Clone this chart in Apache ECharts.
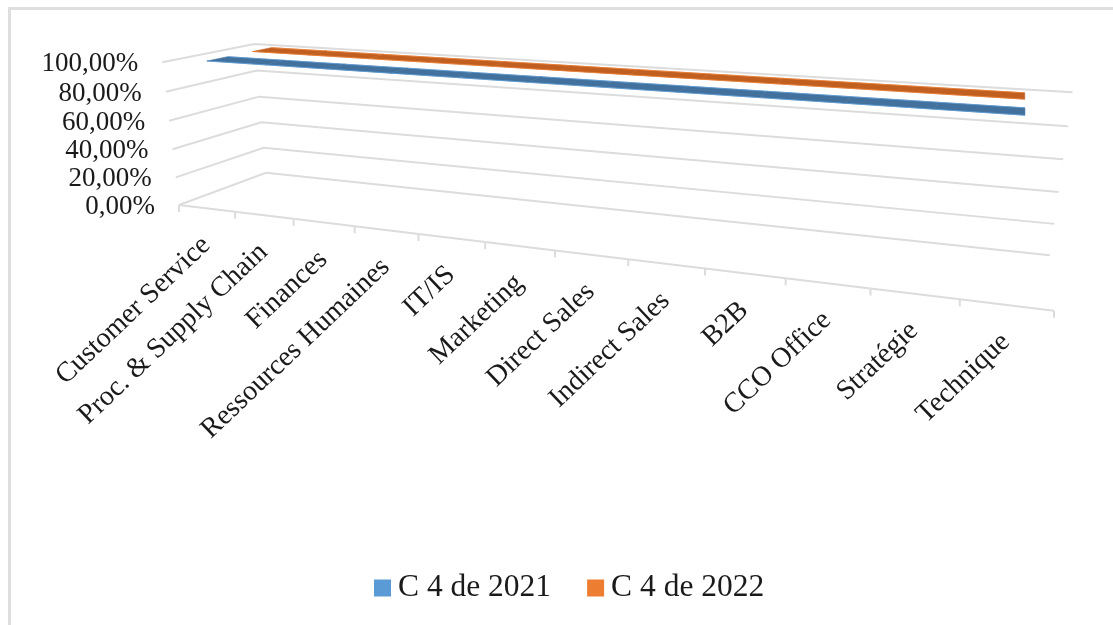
<!DOCTYPE html>
<html>
<head>
<meta charset="utf-8">
<title>C 4</title>
<style>
  html, body { margin: 0; padding: 0; background: #fff; }
  #chart { width: 1113px; height: 625px; }
</style>
<script src="https://cdn.jsdelivr.net/npm/echarts@6/dist/echarts.min.js"></script>
</head>
<body>
<div id="chart"></div>
<script>
const categories = ['Customer Service', 'Proc. & Supply Chain', 'Finances', 'Ressources Humaines', 'IT/IS', 'Marketing', 'Direct Sales', 'Indirect Sales', 'B2B', 'CCO Office', 'Stratégie', 'Technique'];
const values2021 = [100, 100, 100, 100, 100, 100, 100, 100, 100, 100, 100, 100];
const values2022 = [100, 100, 100, 100, 100, 100, 100, 100, 100, 100, 100, 100];
const valueTicks = [0, 20, 40, 60, 80, 100];
const valueLabels = ['0,00%', '20,00%', '40,00%', '60,00%', '80,00%', '100,00%'];
const seriesNames = ['C 4 de 2021', 'C 4 de 2022'];

const FONT = '"Liberation Serif", "Times New Roman", serif';
const GRID_COLOR = '#dcdcdc';
const TEXT_COLOR = '#1a1a1a';

// corners of the 3d box on screen, with their perspective weights
const O = { x: 179, y: 205, w: 1 };
const U = { x: 1054, y: 310.7, w: 0.7536 };
const V = { x: 162.3, y: 62.3, w: 0.96 };
const D = { x: 266, y: 172.7, w: 1.115 };

// u along categories, v along values, d along depth, all 0..1
function project(u, v, d) {
  const w = O.w + (U.w - O.w) * u + (V.w - O.w) * v + (D.w - O.w) * d;
  const nx = O.x * O.w + (U.x * U.w - O.x * O.w) * u + (V.x * V.w - O.x * O.w) * v + (D.x * D.w - O.x * O.w) * d;
  const ny = O.y * O.w + (U.y * U.w - O.y * O.w) * u + (V.y * V.w - O.y * O.w) * v + (D.y * D.w - O.y * O.w) * d;
  return [nx / w, ny / w];
}

// plain grid pixel -> 0..1 box position, so values still go through the axes
function toUnit(params, pt) {
  const r = params.coordSys;
  return [(pt[0] - r.x) / r.width, (r.y + r.height - pt[1]) / r.height];
}

function ribbon(d0, d1, face, edge) {
  return function (params, api) {
    const i = api.value(0);
    if (i >= categories.length - 1) return null;
    const a = toUnit(params, api.coord([i, api.value(1)]));
    const b = toUnit(params, api.coord([i + 1, api.value(2)]));
    // the last point stops a little short of the band centre, as in the original
    if (i === categories.length - 2) b[0] -= 0.004;
    const p = [project(a[0], a[1], d0), project(a[0], a[1], d1), project(b[0], b[1], d1), project(b[0], b[1], d0)];
    const edgeStyle = { stroke: edge, lineWidth: 0.8 };
    return {
      type: 'group',
      children: [
        { type: 'polygon', shape: { points: p }, style: { fill: face, stroke: face, lineWidth: 0.5 } },
        { type: 'line', shape: { x1: p[0][0], y1: p[0][1], x2: p[3][0], y2: p[3][1] }, style: edgeStyle },
        { type: 'line', shape: { x1: p[1][0], y1: p[1][1], x2: p[2][0], y2: p[2][1] }, style: edgeStyle }
      ]
    };
  };
}

function ribbonData(values) {
  return values.map((v, i) => [i, v, i + 1 < values.length ? values[i + 1] : v]);
}

const chart = echarts.init(document.getElementById('chart'));
chart.setOption({
  animation: false,
  backgroundColor: '#fff',
  grid: { left: 100, top: 50, width: 800, height: 300 },
  xAxis: { type: 'category', data: categories, show: false },
  yAxis: { type: 'value', min: 0, max: 100, interval: 20, show: false },
  // what is left of the chart frame: top and left edges only
  graphic: [
    { type: 'rect', silent: true, shape: { x: 8, y: 7, width: 1105, height: 3 }, style: { fill: '#dedede' } },
    { type: 'rect', silent: true, shape: { x: 8, y: 7, width: 3, height: 618 }, style: { fill: '#dedede' } }
  ],
  legend: {
    left: 369,
    top: 567,
    itemWidth: 17,
    itemHeight: 17,
    itemGap: 36,
    icon: 'rect',
    textStyle: { fontFamily: FONT, fontSize: 31.5, color: TEXT_COLOR, padding: [0, 0, 0, 2] },
    data: seriesNames
  },
  series: [
    {
      // walls and gridlines
      type: 'custom',
      silent: true,
      clip: false,
      data: valueTicks.map((t, i) => [t, i]),
      renderItem(params, api) {
        const v = toUnit(params, api.coord([0, api.value(0)]))[1];
        const left = project(0, v, 0);
        const label = valueLabels[api.value(1)];
        return {
          type: 'group',
          children: [
            { type: 'polyline', shape: { points: [left, project(0, v, 1), project(1, v, 1)] }, style: { fill: null, stroke: GRID_COLOR, lineWidth: 2 } },
            { type: 'text', x: left[0] - 24, y: left[1] + 2, style: { text: label, align: 'right', verticalAlign: 'middle', font: '27px ' + FONT, fill: TEXT_COLOR } }
          ]
        };
      }
    },
    {
      // front floor edge, ticks and category labels
      type: 'custom',
      silent: true,
      clip: false,
      data: categories.map((c, i) => [i]),
      renderItem(params, api) {
        const i = api.value(0);
        const half = api.size([1, 0])[0] / 2;
        const c = api.coord([i, 0]);
        const a = toUnit(params, [c[0] - half, c[1]])[0];
        const m = toUnit(params, c)[0];
        const b = toUnit(params, [c[0] + half, c[1]])[0];
        const pa = project(a, 0, 0);
        const pb = project(b, 0, 0);
        const pm = project(m, 0, 0);
        const line = { fill: null, stroke: GRID_COLOR, lineWidth: 2 };
        const children = [
          { type: 'line', shape: { x1: pa[0], y1: pa[1], x2: pb[0], y2: pb[1] }, style: line },
          { type: 'line', shape: { x1: pa[0], y1: pa[1], x2: pa[0], y2: pa[1] + 7 }, style: line },
          { type: 'text', x: pm[0] - 0.5, y: pm[1] + 33, rotation: 43.5 * Math.PI / 180, style: { text: categories[i], align: 'right', verticalAlign: 'middle', font: '28.2px ' + FONT, fill: TEXT_COLOR } }
        ];
        if (i === categories.length - 1) {
          children.push({ type: 'line', shape: { x1: pb[0], y1: pb[1], x2: pb[0], y2: pb[1] + 7 }, style: line });
        }
        return { type: 'group', children };
      }
    },
    {
      name: seriesNames[0],
      type: 'custom',
      silent: true,
      clip: false,
      itemStyle: { color: '#5b9bd5' },
      data: ribbonData(values2021),
      renderItem: ribbon(0.16, 0.38, '#41719c', '#5b9bd5')
    },
    {
      name: seriesNames[1],
      type: 'custom',
      silent: true,
      clip: false,
      itemStyle: { color: '#ed7d31' },
      data: ribbonData(values2022),
      renderItem: ribbon(0.66, 0.88, '#c05f20', '#ed7d31')
    }
  ]
});
</script>
</body>
</html>
